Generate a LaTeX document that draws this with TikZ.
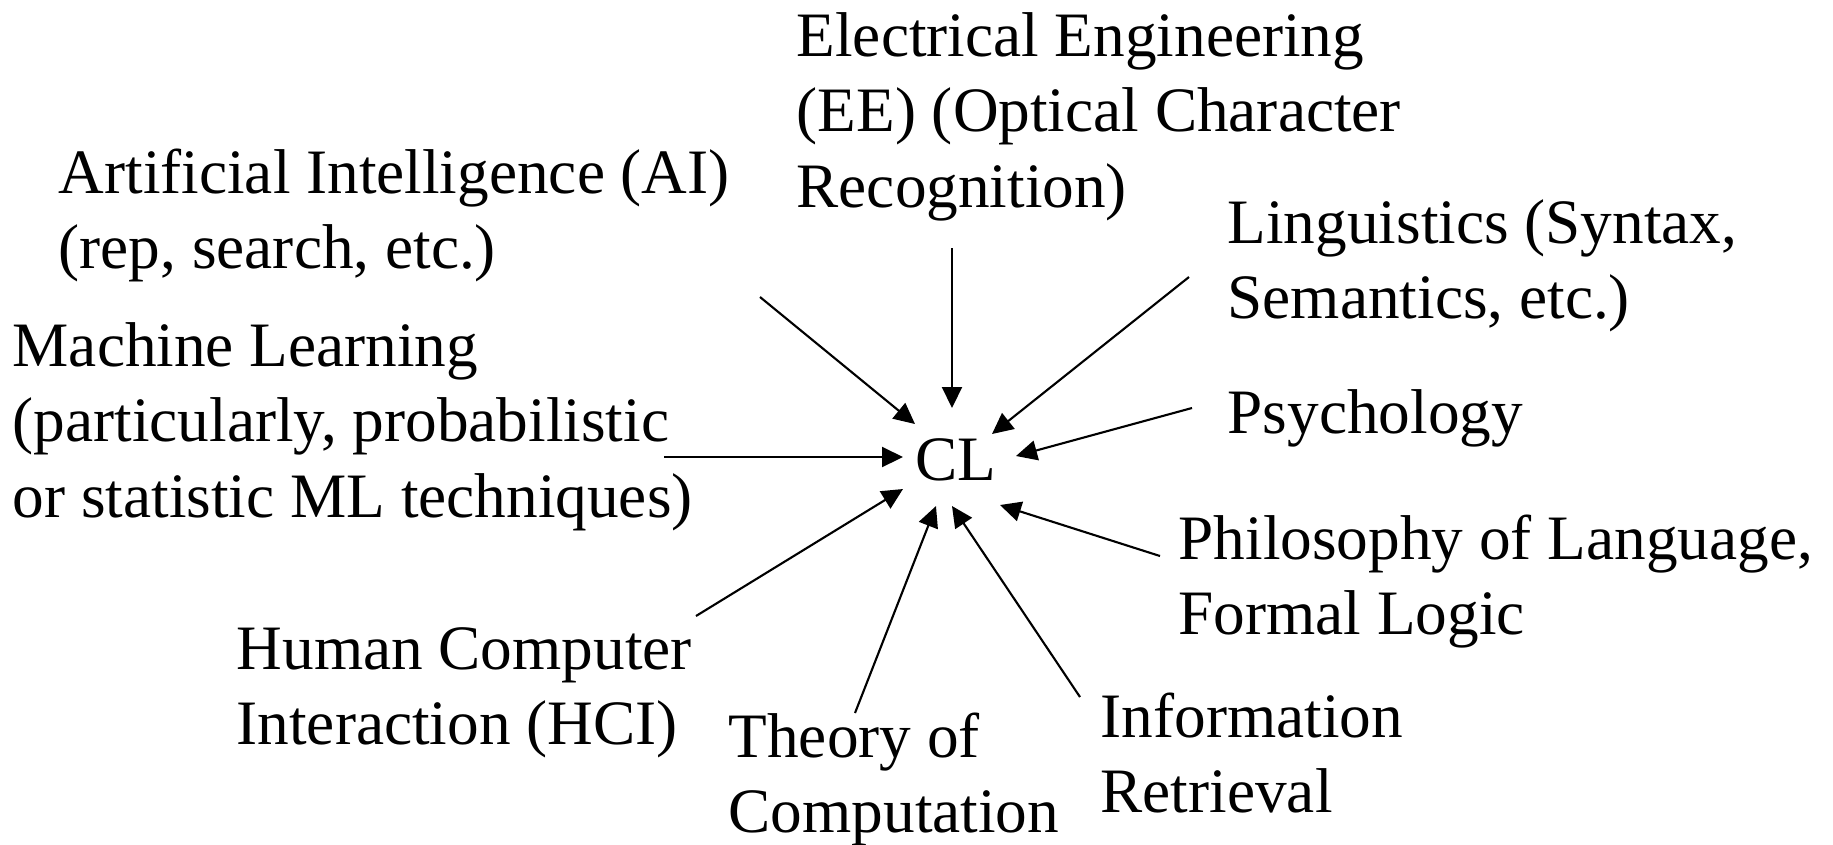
\documentclass[tikz,border=0pt]{standalone}
\usepackage{fontspec}
\setmainfont{Liberation Serif}
\usetikzlibrary{arrows.meta}
\begin{document}
\begin{tikzpicture}[x=0.1mm, y=-0.1mm,
  lbl/.style={anchor=base west, inner sep=0pt, font=\fontsize{18pt}{21.6pt}\selectfont},
  feed/.style={line width=0.6pt, -{Triangle[length=2.1mm,width=2.0mm]}}]
\useasboundingbox (0,0) rectangle (1833,844);
% labels, anchored at the baseline of their first line
\node[lbl] (ee)  at (796,56)  {\vtop{\hbox{Electrical Engineering}\hbox{(EE) (Optical Character}\hbox{Recognition)}}};
\node[lbl] (ai)  at (58,193)  {\vtop{\hbox{Artificial Intelligence (AI)}\hbox{(rep, search, etc.)}}};
\node[lbl] (ml)  at (12,366)  {\vtop{\hbox{Machine Learning}\hbox{(particularly, probabilistic}\hbox{or statistic ML techniques)}}};
\node[lbl] (ling) at (1227,243) {\vtop{\hbox{Linguistics (Syntax,}\hbox{Semantics, etc.)}}};
\node[lbl] (psy) at (1227,433) {Psychology};
\node[lbl] (phil) at (1178,559) {\vtop{\hbox{Philosophy of Language,}\hbox{Formal Logic}}};
\node[lbl] (hci) at (236,669) {\vtop{\hbox{Human Computer}\hbox{Interaction (HCI)}}};
\node[lbl] (toc) at (728,757) {\vtop{\hbox{Theory of}\hbox{Computation}}};
\node[lbl] (ir)  at (1100,737) {\vtop{\hbox{Information}\hbox{Retrieval}}};
\node[lbl] (cl)  at (915,480) {CL};
% arrow ends around CL
\coordinate (sAI) at (760,297);   \coordinate (tAI) at (915,424);
\coordinate (sEE) at (952,248);   \coordinate (tEE) at (952,408);
\coordinate (sLI) at (1189,277);  \coordinate (tLI) at (992,434);
\coordinate (sPS) at (1192,408);  \coordinate (tPS) at (1016,456);
\coordinate (sML) at (664,457);   \coordinate (tML) at (903,457);
\coordinate (sPH) at (1160,556);  \coordinate (tPH) at (1000,505);
\coordinate (sHC) at (696,616);   \coordinate (tHC) at (903,489);
\coordinate (sTC) at (855,713);   \coordinate (tTC) at (936,506);
\coordinate (sIR) at (1080,697);  \coordinate (tIR) at (952,506);
\foreach \k in {AI,EE,LI,PS,ML,PH,HC,TC,IR}
  \draw[feed] (s\k) -- (t\k);
\end{tikzpicture}
\end{document}
